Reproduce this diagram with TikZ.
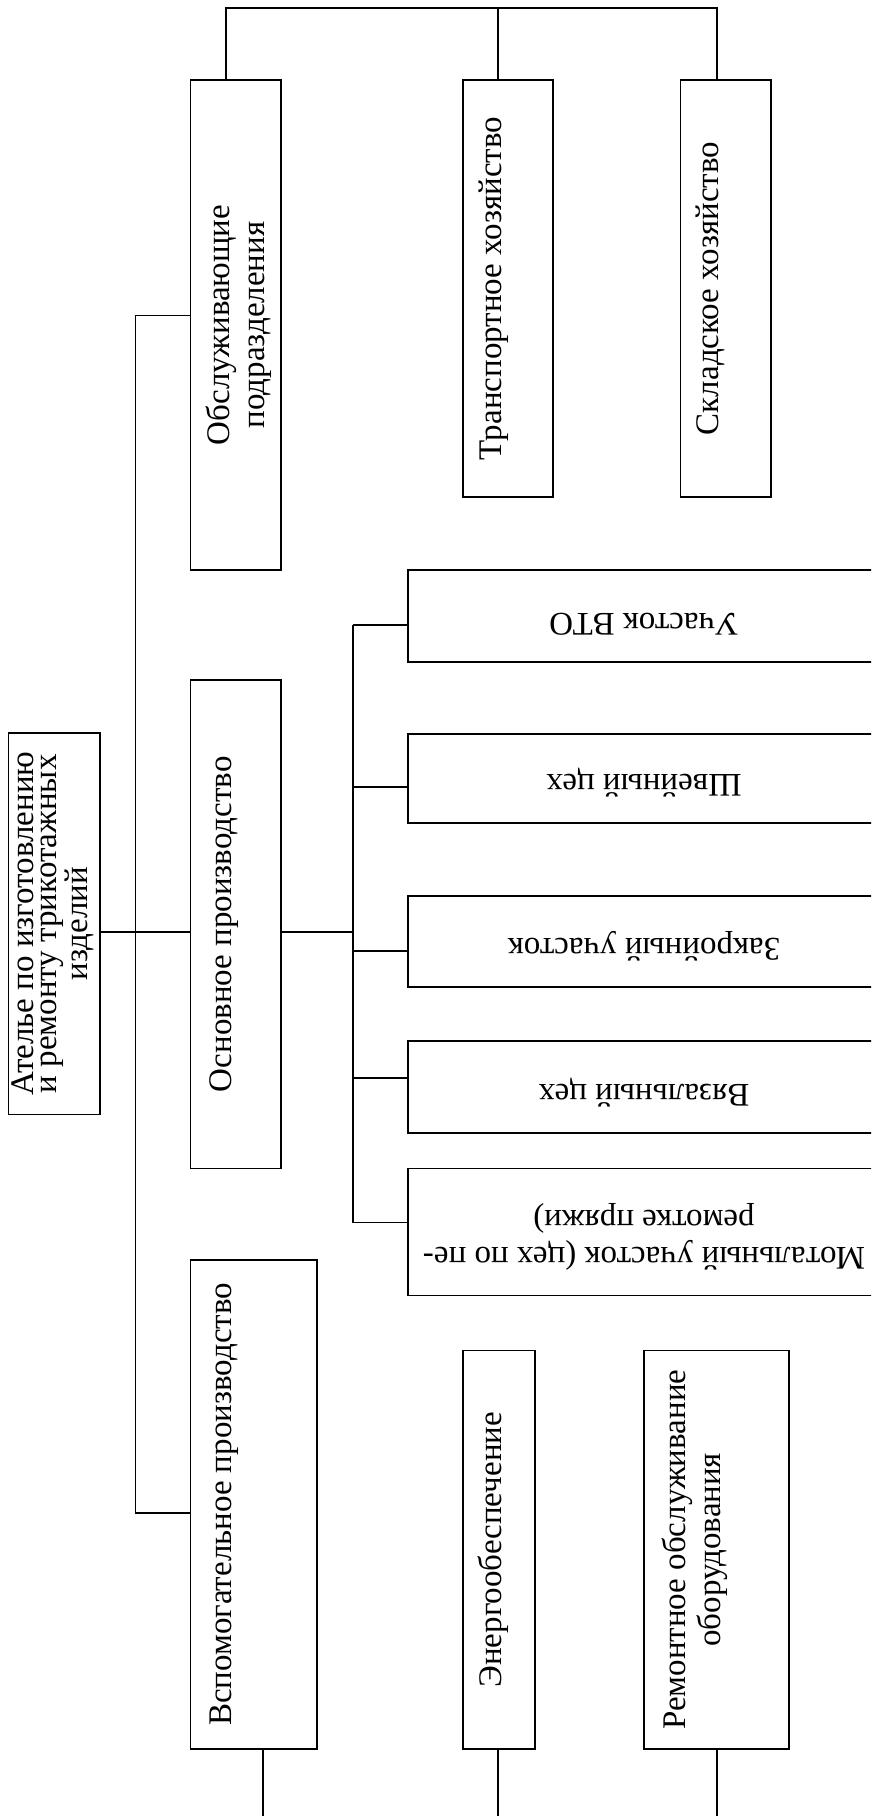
\documentclass[tikz,border=0pt]{standalone}
\usepackage{fontspec}
\setmainfont{Liberation Serif}
\begin{document}
\begin{tikzpicture}[x=1pt,y=-1pt,
  frame/.style={draw, line width=1.3pt, inner sep=0pt, rectangle},
  link/.style={line width=1.3pt},
  vlabel/.style={rotate=90, anchor=base, align=center, inner sep=0pt,
    font=\fontsize{33}{35}\selectfont},
  ulabel/.style={rotate=180, anchor=base, align=center, inner sep=0pt,
    font=\fontsize{33}{37}\selectfont}]
\useasboundingbox (0,0) rectangle (871,1816);
\clip (0,0) rectangle (871,1816);

% boxes
\node[frame, minimum width=91.7pt,  minimum height=381.5pt] (root)   at (54.15,923.75) {};
\node[frame, minimum width=90.5pt,  minimum height=490pt]   (obsl)   at (235.75,325) {};
\node[frame, minimum width=90pt,    minimum height=417pt]   (trans)  at (508,288.5) {};
\node[frame, minimum width=90.5pt,  minimum height=417pt]   (sklad)  at (725.75,288.5) {};
\node[frame, minimum width=90.5pt,  minimum height=488.5pt] (osn)    at (235.75,924.25) {};
\node[frame, minimum width=126.5pt, minimum height=489pt]   (vsp)    at (253.75,1504.5) {};
\node[frame, minimum width=72pt,    minimum height=398.5pt] (energ)  at (499,1549.75) {};
\node[frame, minimum width=145pt,   minimum height=398.5pt] (remont) at (716.5,1549.75) {};
\node[frame, minimum width=472pt,   minimum height=92pt]    (vto)    at (644,616) {};
\node[frame, minimum width=472pt,   minimum height=89pt]    (shv)    at (644,778.5) {};
\node[frame, minimum width=472pt,   minimum height=91pt]    (zakr)   at (644,941.5) {};
\node[frame, minimum width=472pt,   minimum height=92pt]    (vyaz)   at (644,1087) {};
\node[frame, minimum width=472pt,   minimum height=127pt]   (motal)  at (644,1232) {};

% labels, read bottom to top (base anchor = baseline of the last line)
\node[vlabel, font=\fontsize{33}{23}\selectfont] (root-t) at ([xshift=80pt]root.west)
  {Ателье по изготовлению\\и ремонту трикотажных\\изделий};
\node[vlabel] (obsl-t)   at ([xshift=74.3pt]obsl.west)   {Обслуживающие\\подразделения};
\node[vlabel] (trans-t)  at ([xshift=39.3pt]trans.west)  {Транспортное хозяйство};
\node[vlabel] (sklad-t)  at ([xshift=38.3pt]sklad.west)  {Складское хозяйство};
\node[vlabel] (osn-t)    at ([xshift=41.3pt]osn.west)    {Основное производство};
\node[vlabel] (vsp-t)    at ([xshift=41.3pt]vsp.west)    {Вспомогательное производство};
\node[vlabel] (energ-t)  at ([xshift=39.3pt]energ.west)  {Энергообеспечение};
\node[vlabel] (remont-t) at ([xshift=76.8pt]remont.west) {Ремонтное обслуживание\\оборудования};

% labels, upside down
\node[ulabel] (vto-t)   at ([yshift=49.5pt]vto.south)   {Участок ВТО};
\node[ulabel] (shv-t)   at ([yshift=49.5pt]shv.south)   {Швейный цех};
\node[ulabel] (zakr-t)  at ([yshift=49.5pt]zakr.south)  {Закройный участок};
\node[ulabel] (vyaz-t)  at ([yshift=49.5pt]vyaz.south)  {Вязальный цех};
\node[ulabel] (motal-t) at ([yshift=86pt]motal.south) {Мотальный участок (цех по пе-\\ремотке пряжи)};

% junction points
\coordinate (tA) at (226,8);
\coordinate (tB) at (498,8);
\coordinate (tC) at (717,8);
\coordinate (bA) at (263,1830);
\coordinate (bB) at (498,1830);
\coordinate (bC) at (717,1830);
\coordinate (trunkTop) at (135.5,315.5);
\coordinate (trunkBot) at (135.5,1513);
\coordinate (hub) at (135.5,932);
\coordinate (sub) at (353,932);
\coordinate (s1) at (353,625);
\coordinate (s2) at (353,787);
\coordinate (s3) at (353,951);
\coordinate (s4) at (353,1078);
\coordinate (s5) at (353,1222.5);

% top bracket
\draw[link] (tA |- obsl.north) -- (tA) -- (tC) -- (tC |- sklad.north);
\draw[link] (tB) -- (tB |- trans.north);
% bottom leads
\draw[link] (vsp.south -| bA) -- (bA);
\draw[link] (energ.south -| bB) -- (bB);
\draw[link] (remont.south -| bC) -- (bC);
% main trunk
\draw[link] (trunkTop -| obsl.west) -- (trunkTop) -- (trunkBot) -- (trunkBot -| vsp.west);
\draw[link] (root.east |- hub) -- (osn.west |- hub);
\draw[link] (osn.east |- sub) -- (sub);
% branch to sections
\draw[link] (s1) -- (s5);
\draw[link] (s1) -- (s1 -| vto.west);
\draw[link] (s2) -- (s2 -| shv.west);
\draw[link] (s3) -- (s3 -| zakr.west);
\draw[link] (s4) -- (s4 -| vyaz.west);
\draw[link] (s5) -- (s5 -| motal.west);
\end{tikzpicture}
\end{document}
